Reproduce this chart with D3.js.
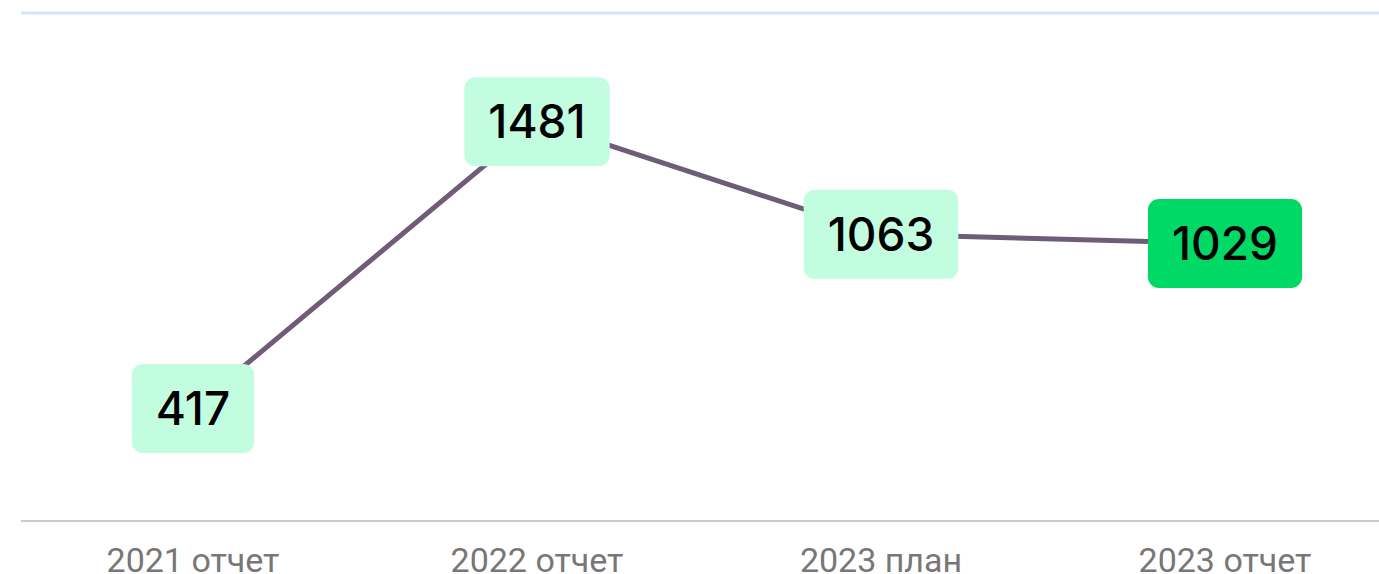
<!DOCTYPE html>
<html>
<head>
<meta charset="utf-8">
<script src="https://cdn.jsdelivr.net/npm/d3@7"></script>
<style>
  html, body { margin: 0; padding: 0; background: #fff; overflow: hidden; }
  svg { display: block; }
</style>
</head>
<body>
<svg width="1379" height="574"></svg>
<script>
// data
const categories = ['2021 отчет', '2022 отчет', '2023 план', '2023 отчет'];
const values = [417, 1481, 1063, 1029];
const highlighted = [false, false, false, true];

const width = 1379;
const height = 574;
const margin = { top: 13, bottom: 53, left: 21 };

const svg = d3.select('svg');

const xScale = d3.scaleBand()
    .domain(categories)
    .range([margin.left, margin.left + 344 * categories.length])
    .padding(0);

const yScale = d3.scaleLinear()
    .domain([0, 1884])
    .range([height - margin.bottom, margin.top]);

// top blue rule
svg.append('line')
    .attr('x1', margin.left).attr('x2', width)
    .attr('y1', yScale(1884)).attr('y2', yScale(1884))
    .style('stroke', '#d3e7fb')
    .style('stroke-width', 3);

// baseline + category labels
const xAxis = d3.axisBottom(xScale).tickSize(0).tickPadding(0);
const ax = svg.append('g')
    .attr('transform', `translate(0,${yScale(0)})`)
    .call(xAxis);
ax.select('.domain').remove();
ax.append('line')
    .attr('x1', margin.left).attr('x2', width)
    .style('stroke', '#cccccc')
    .style('stroke-width', 2);
ax.selectAll('.tick text')
    .attr('y', 51)
    .attr('dy', 0)
    .style('font-family', 'Roboto, sans-serif')
    .style('font-size', '34px')
    .style('fill', '#777777');

const cx = d => xScale(d) + xScale.bandwidth() / 2;
const points = categories.map((c, i) => ({ c, v: values[i], hl: highlighted[i] }));

// line
const line = d3.line()
    .x(d => cx(d.c))
    .y(d => yScale(d.v));
svg.append('path')
    .datum(points)
    .attr('d', line)
    .style('fill', 'none')
    .style('stroke', '#6f5c79')
    .style('stroke-width', 5);

// value boxes
const boxes = svg.selectAll('g.box')
    .data(points)
    .enter()
    .append('g')
    .attr('class', 'box')
    .attr('transform', d => `translate(${cx(d.c)},${yScale(d.v)})`);

boxes.append('text')
    .attr('text-anchor', 'middle')
    .attr('dy', '0.36em')
    .style('font-family', 'Inter, sans-serif')
    .style('font-size', '46px')
    .style('font-weight', 500)
    .style('fill', '#000')
    .text(d => d.v);

boxes.each(function () {
    const g = d3.select(this);
    const bb = g.select('text').node().getBBox();
    const w = bb.width + 48;
    const h = 89;
    g.insert('rect', 'text')
        .attr('x', -w / 2)
        .attr('y', -h / 2)
        .attr('width', w)
        .attr('height', h)
        .attr('rx', 11)
        .style('fill', d => d.hl ? '#00d966' : '#c3fde0');
});
</script>
</body>
</html>
